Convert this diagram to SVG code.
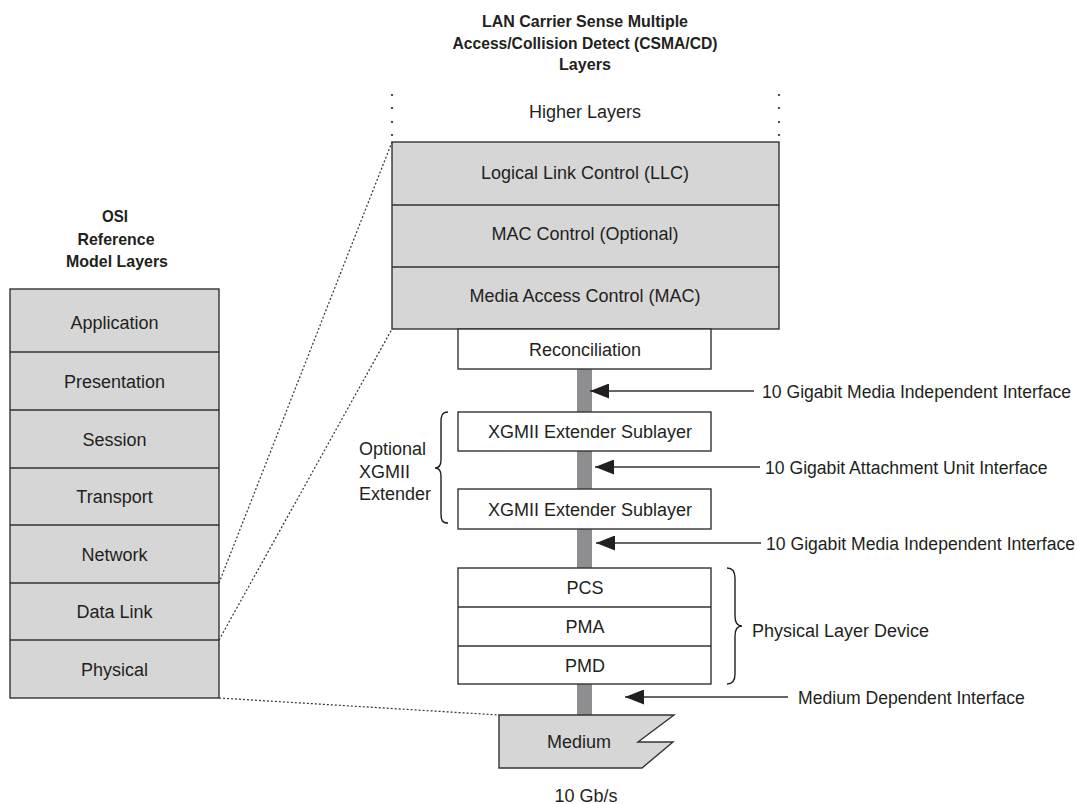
<svg xmlns="http://www.w3.org/2000/svg" width="1077" height="804" viewBox="0 0 1077 804">
<style>
  text { font-family: "Liberation Sans", Arial, sans-serif; fill: #231f20; }
  .t { font-size: 18px; text-anchor: middle; }
  .lbl { font-size: 17.6px; }
  .hd { font-size: 17px; font-weight: bold; text-anchor: middle; }
  .gray { fill: #d6d6d7; stroke: #333; stroke-width: 1.4; }
  .white { fill: #fff; stroke: #333; stroke-width: 1.4; }
  .sep { stroke: #333; stroke-width: 1.4; fill: none; }
  .bar { fill: #8e8e90; }
  .dot { stroke: #333; stroke-width: 1.2; stroke-dasharray: 2 2; fill: none; }
  .arr { stroke: #333; stroke-width: 1.4; fill: none; marker-end: url(#ah); }
  .brace { stroke: #231f20; stroke-width: 1.4; fill: none; }
</style>
<defs>
  <marker id="ah" markerUnits="userSpaceOnUse" markerWidth="19" markerHeight="15" refX="19" refY="7.5" orient="auto">
    <path d="M0,0 L19,7.5 L0,15 Z" fill="#231f20"/>
  </marker>
</defs>
<rect width="1077" height="804" fill="#fff"/>

<g id="lan-title">
  <text class="hd" x="585" y="27" textLength="206" lengthAdjust="spacingAndGlyphs">LAN Carrier Sense Multiple</text>
  <text class="hd" x="585" y="48.5" textLength="265" lengthAdjust="spacingAndGlyphs">Access/Collision Detect (CSMA/CD)</text>
  <text class="hd" x="585" y="70" textLength="52" lengthAdjust="spacingAndGlyphs">Layers</text>
</g>
<g id="osi-title">
  <text class="hd" x="115" y="222" textLength="26" lengthAdjust="spacingAndGlyphs">OSI</text>
  <text class="hd" x="116" y="245" textLength="77" lengthAdjust="spacingAndGlyphs">Reference</text>
  <text class="hd" x="117" y="267" textLength="102" lengthAdjust="spacingAndGlyphs">Model Layers</text>
</g>

<g id="osi-stack">
  <rect class="gray" x="10" y="289" width="209" height="409"/>
  <path class="sep" d="M10,352 H219 M10,410 H219 M10,468 H219 M10,525 H219 M10,583 H219 M10,640 H219"/>
  <text class="t" x="114.5" y="329">Application</text>
  <text class="t" x="114.5" y="387.5">Presentation</text>
  <text class="t" x="114.5" y="445.5">Session</text>
  <text class="t" x="114.5" y="503">Transport</text>
  <text class="t" x="114.5" y="560.5">Network</text>
  <text class="t" x="114.5" y="618">Data Link</text>
  <text class="t" x="114.5" y="676">Physical</text>
</g>

<g id="higher-layers">
  <g fill="#231f20">
    <circle cx="392" cy="95" r="1.1"/><circle cx="392" cy="108" r="1.1"/><circle cx="392" cy="122" r="1.1"/><circle cx="392" cy="135" r="1.1"/>
    <circle cx="779" cy="95" r="1.1"/><circle cx="779" cy="108" r="1.1"/><circle cx="779" cy="122" r="1.1"/><circle cx="779" cy="135" r="1.1"/>
  </g>
  <text class="t" x="585" y="118">Higher Layers</text>
</g>

<g id="lan-stack">
  <rect class="gray" x="392" y="142" width="387" height="187"/>
  <path class="sep" d="M392,205 H779 M392,267 H779"/>
  <text class="t" x="585" y="179">Logical Link Control (LLC)</text>
  <text class="t" x="585" y="240">MAC Control (Optional)</text>
  <text class="t" x="585" y="302">Media Access Control (MAC)</text>
</g>

<g id="bars">
  <rect class="bar" x="577" y="369" width="15" height="43"/>
  <rect class="bar" x="577" y="451" width="15" height="38"/>
  <rect class="bar" x="577" y="529" width="15" height="39"/>
  <rect class="bar" x="577" y="684" width="15" height="31"/>
</g>

<g id="reconciliation">
  <rect class="white" x="458" y="329" width="253" height="40"/>
  <text class="t" x="585" y="356">Reconciliation</text>
</g>
<g id="xgxs1">
  <rect class="white" x="458" y="412" width="253" height="39"/>
  <text class="t" x="590" y="438">XGMII Extender Sublayer</text>
</g>
<g id="xgxs2">
  <rect class="white" x="458" y="489" width="253" height="40"/>
  <text class="t" x="590" y="516">XGMII Extender Sublayer</text>
</g>
<g id="phy">
  <rect class="white" x="458" y="568" width="253" height="116"/>
  <path class="sep" d="M458,607 H711 M458,646 H711"/>
  <text class="t" x="585" y="594">PCS</text>
  <text class="t" x="585" y="633">PMA</text>
  <text class="t" x="585" y="672">PMD</text>
</g>
<g id="medium">
  <path class="gray" d="M499,715 H674 L638,742 H673 L642,768 H499 Z"/>
  <text class="t" x="579" y="748">Medium</text>
  <text class="t" x="586" y="802">10 Gb/s</text>
</g>

<g id="xgmii-extender">
  <path class="brace" d="M448,412 C442,412 441,416 441,422 L441,460 C441,465 439,468 435,468 C439,468 441,471 441,476 L441,514 C441,520 442,523 448,523"/>
  <text style="font-size:18px" x="359" y="455">Optional</text>
  <text style="font-size:18px" x="359" y="478">XGMII</text>
  <text style="font-size:18px" x="359" y="500">Extender</text>
</g>
<g id="phy-device">
  <path class="brace" d="M727,568 C733,568 735,572 735,578 L735,616 C735,622 737,626 742,626 C737,626 735,630 735,636 L735,674 C735,680 733,684 727,684"/>
  <text style="font-size:18px" x="752" y="637">Physical Layer Device</text>
</g>

<g id="connectors">
  <line class="dot" x1="219" y1="583" x2="392" y2="142"/>
  <line class="dot" x1="219" y1="640" x2="392" y2="329"/>
  <line class="dot" x1="219" y1="698" x2="499" y2="715"/>
  <line class="arr" x1="754" y1="391" x2="590" y2="391"/>
  <line class="arr" x1="760" y1="467" x2="595" y2="467"/>
  <line class="arr" x1="761" y1="543" x2="596" y2="543"/>
  <line class="arr" x1="788" y1="697" x2="625" y2="697"/>
</g>
<g id="interface-labels">
  <text class="lbl" x="762" y="397.5">10 Gigabit Media Independent Interface</text>
  <text class="lbl" x="765" y="473.5">10 Gigabit Attachment Unit Interface</text>
  <text class="lbl" x="766" y="549.5">10 Gigabit Media Independent Interface</text>
  <text class="lbl" x="798" y="703.5">Medium Dependent Interface</text>
</g>
</svg>
